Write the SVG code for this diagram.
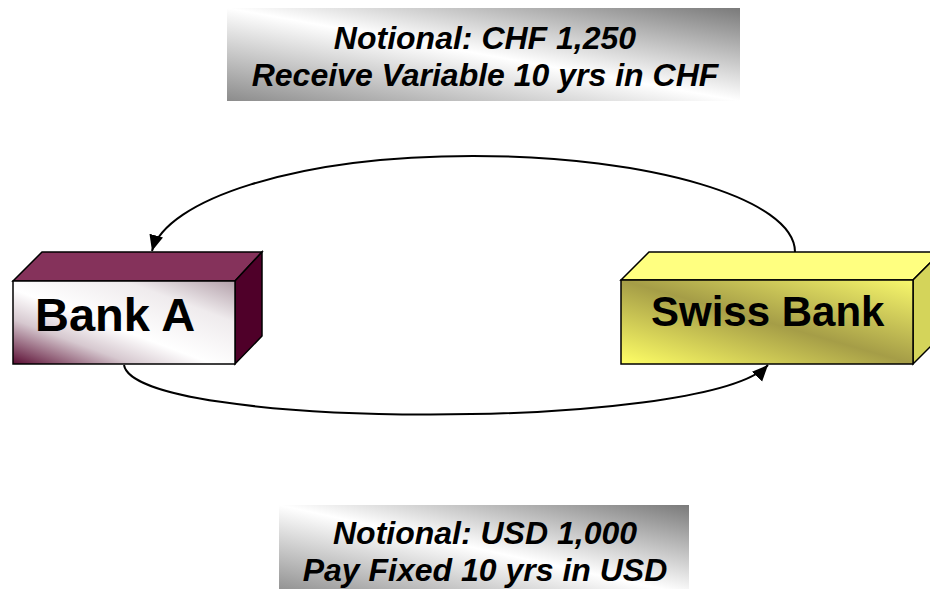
<svg xmlns="http://www.w3.org/2000/svg" width="930" height="589" viewBox="0 0 930 589">
  <defs>
    <linearGradient id="gA" x1="0" y1="1" x2="1" y2="0">
      <stop offset="0" stop-color="#5a0c32"/>
      <stop offset="0.27" stop-color="#d6c8cf"/>
      <stop offset="0.45" stop-color="#ffffff"/>
      <stop offset="0.75" stop-color="#efebed"/>
      <stop offset="1" stop-color="#b3a0aa"/>
    </linearGradient>
    <linearGradient id="gS" x1="0" y1="1" x2="1" y2="0">
      <stop offset="0" stop-color="#ffff66"/>
      <stop offset="0.5" stop-color="#a59d47"/>
      <stop offset="1" stop-color="#f8f86c"/>
    </linearGradient>
    <linearGradient id="gL" x1="0" y1="1" x2="1" y2="0">
      <stop offset="0" stop-color="#8c8c8c"/>
      <stop offset="0.5" stop-color="#ffffff"/>
      <stop offset="1" stop-color="#7a7a7a"/>
    </linearGradient>
    <marker id="arr" markerUnits="userSpaceOnUse" markerWidth="18" markerHeight="16" refX="16" refY="7" orient="auto">
      <path d="M0,0 L16,7 L0,14 Z" fill="#000"/>
    </marker>
  </defs>
  <style>
    .edge { fill: none; stroke: #000; stroke-width: 2; marker-end: url(#arr); }
    .face { stroke: #000; stroke-width: 1.5; stroke-linejoin: miter; }
    .bank { font-family: "Liberation Sans", Arial, sans-serif; font-weight: bold; fill: #000; }
    .lbl { font-family: "Liberation Sans", Arial, sans-serif; font-weight: bold; font-style: italic; font-size: 32px; fill: #000; text-anchor: middle; }
  </style>

  <g id="label-top">
    <rect x="227" y="8" width="513" height="93" fill="url(#gL)"/>
    <text class="lbl" x="485" y="49">Notional: CHF 1,250</text>
    <text class="lbl" x="485" y="86">Receive Variable 10 yrs in CHF</text>
  </g>

  <g id="label-bottom">
    <rect x="279" y="505" width="410" height="90" fill="url(#gL)"/>
    <text class="lbl" x="485" y="544">Notional: USD 1,000</text>
    <text class="lbl" x="485" y="581">Pay Fixed 10 yrs in USD</text>
  </g>

  <g id="bank-a">
    <polygon class="face" points="13,281 42,252 262,252 235,281" fill="#85325b"/>
    <polygon class="face" points="235,281 262,252 262,336 235,364" fill="#4f0029"/>
    <rect class="face" x="13" y="281" width="222" height="83" fill="url(#gA)"/>
    <text class="bank" x="35" y="331" font-size="47">Bank A</text>
  </g>

  <g id="swiss-bank">
    <polygon class="face" points="621,280 649,252 941,252 913,280" fill="#ffff80"/>
    <polygon class="face" points="913,280 941,252 941,336 913,364" fill="#d4d45a"/>
    <rect class="face" x="621" y="280" width="292" height="84" fill="url(#gS)"/>
    <text class="bank" x="651" y="326" font-size="42">Swiss Bank</text>
  </g>

  <g id="connectors">
    <path class="edge" d="M795,252 C795,199 651,156 473,156 C295,156 166,200 152,251"/>
    <path class="edge" d="M124,365 C135,430 705,432 768,365"/>
  </g>
</svg>
